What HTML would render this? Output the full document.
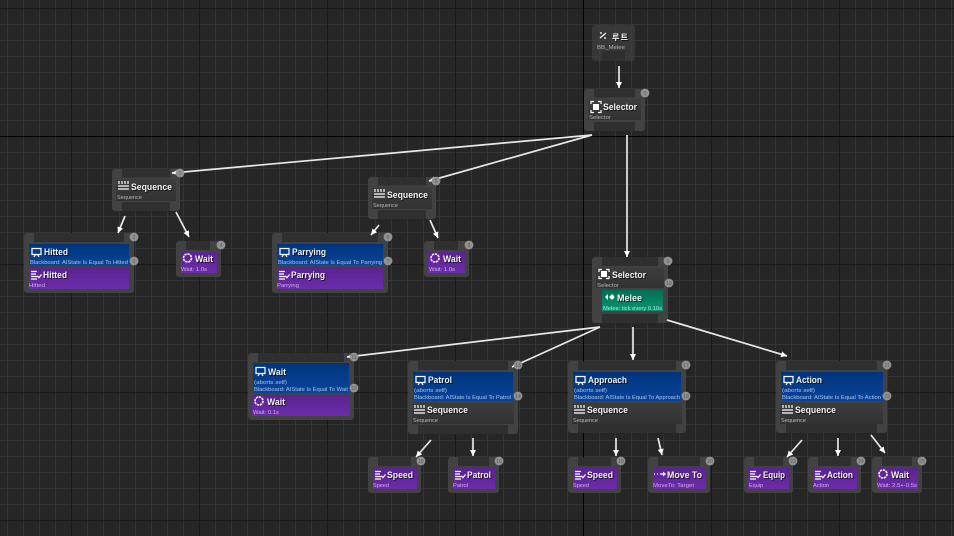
<!DOCTYPE html>
<html><head><meta charset="utf-8"><style>
html,body{margin:0;padding:0;background:#262626;overflow:hidden}
svg{display:block}
text{font-family:"Liberation Sans","Noto Sans CJK KR",sans-serif;fill:#fff}
.t{font-size:9.5px;font-weight:bold;fill:#f4f4f4;filter:drop-shadow(1px 1px 0 #000a)}
.s{font-size:5.6px;fill:#b8b8b8}
.b{font-size:5.6px;fill:#a9c4ea}
.p{font-size:5.6px;fill:#cfaeea}
.g{font-size:5.6px;fill:#b5e8d5}
.n{fill:#424242}
.k{fill:#2f2f2f}
.d{fill:url(#gd)}
.bl{fill:url(#gb)}
.pu{fill:url(#gp)}
.gr{fill:url(#gg)}
.i{fill:none;stroke:#fff;stroke-width:1.2}
.f{fill:#fff}
.l{stroke:#e8e8e8;stroke-width:1.7;fill:none;marker-end:url(#a)}
.c{fill:#929292;r:4.4px}
.x{font-size:5px;fill:#5a5a5a;text-anchor:middle}
</style></head><body>
<svg width="954" height="536" viewBox="0 0 954 536" xmlns="http://www.w3.org/2000/svg">
<defs>
<pattern id="mn" width="16" height="16" patternUnits="userSpaceOnUse" x="7" y="8"><rect width="1" height="16" fill="#353535"/><rect width="16" height="1" fill="#353535"/></pattern>
<pattern id="mj" width="128" height="128" patternUnits="userSpaceOnUse" x="71" y="8"><rect width="1" height="128" fill="#181818"/><rect width="128" height="1" fill="#181818"/></pattern>
<linearGradient id="gd" x1="0" y1="0" x2="0" y2="1"><stop offset="0" stop-color="#3e3e3e"/><stop offset="1" stop-color="#323232"/></linearGradient>
<linearGradient id="gb" x1="0" y1="0" x2="0" y2="1"><stop offset="0" stop-color="#00347c"/><stop offset="1" stop-color="#0a449a"/></linearGradient>
<linearGradient id="gp" x1="0" y1="0" x2="0" y2="1"><stop offset="0" stop-color="#5a2292"/><stop offset="1" stop-color="#6c2ca8"/></linearGradient>
<linearGradient id="gg" x1="0" y1="0" x2="0" y2="1"><stop offset="0" stop-color="#006f54"/><stop offset="1" stop-color="#0a9470"/></linearGradient>
<marker id="a" markerUnits="userSpaceOnUse" markerWidth="8" markerHeight="8" refX="6" refY="3.500" orient="auto"><path d="M0 .5L6 3.500L0 6.500Z" fill="#fff"/></marker>
</defs>
<rect width="954" height="536" fill="#262626"/>
<rect width="954" height="536" fill="url(#mn)"/>
<rect width="954" height="536" fill="url(#mj)"/>
<rect x="583" width="1" height="536" fill="#000"/>
<rect y="136" width="954" height="1" fill="#000"/>

<!-- root -->
<rect class="n" x="592" y="25" width="43" height="36" rx="3" fill-opacity=".6"/>
<rect class="k" x="602" y="51" width="23" height="10"/>
<path class="i" d="M600 38L606 33M600 33h2M604 38h2"/>
<text class="t" x="612" y="40" style="font-size:8px" textLength="16">루트</text>
<text class="s" x="597" y="49" textLength="28" lengthAdjust="spacingAndGlyphs">BB_Melee</text>

<!-- selector top -->
<rect class="n" x="584" y="89" width="61" height="42" rx="3"/>
<rect class="k" x="594" y="89" width="41" height="8.500"/><rect class="k" x="594" y="122" width="41" height="9"/>
<rect class="d" x="588" y="99" width="53" height="21"/>
<rect class="f" x="593" y="104" width="6" height="6"/><path class="i" d="M594 101.500h-3v2.500M598 101.500h3v2.500M594 112.500h-3v-2.500M598 112.500h3v-2.500"/>
<text class="t" x="603" y="110" textLength="34" lengthAdjust="spacingAndGlyphs">Selector</text>
<text class="s" x="589" y="119" textLength="22" lengthAdjust="spacingAndGlyphs">Selector</text>

<!-- sequence 1 -->
<rect class="n" x="112" y="169" width="68" height="42" rx="3"/>
<rect class="k" x="122" y="169" width="48" height="8.500"/><rect class="k" x="122" y="202" width="48" height="9"/>
<rect class="d" x="116" y="179" width="60" height="22"/>
<path class="i" d="M119 181v3M122 181v3M125 181v3M128 181v3M118 186h11M118 189h11"/>
<text class="t" x="131" y="190" textLength="41" lengthAdjust="spacingAndGlyphs">Sequence</text>
<text class="s" x="117" y="199" textLength="25" lengthAdjust="spacingAndGlyphs">Sequence</text>

<!-- hitted -->
<rect class="n" x="24" y="233" width="110" height="60" rx="3"/>
<rect class="k" x="34" y="233" width="90" height="9"/>
<rect class="bl" x="29" y="244" width="100" height="22"/>
<rect class="pu" x="29" y="267" width="100" height="22"/>
<path class="i" d="M32 248.500h9v6h-9zM34 257l1.500-2.500M39 257l-1.500-2.500"/>
<text class="t" x="44" y="255" textLength="24" lengthAdjust="spacingAndGlyphs">Hitted</text>
<text class="b" x="30" y="264" textLength="98" lengthAdjust="spacingAndGlyphs">Blackboard: AIState Is Equal To Hitted</text>
<path class="i" d="M31 271.500h6M31 274h5M31 276.500h6M31 279h6M37 276l2 1.500 2.500-3"/>
<text class="t" x="43" y="278" textLength="24" lengthAdjust="spacingAndGlyphs">Hitted</text>
<text class="p" x="29" y="287" textLength="16" lengthAdjust="spacingAndGlyphs">Hitted</text>

<!-- wait 1 -->
<rect class="n" x="176" y="241" width="45" height="36" rx="3"/>
<rect class="k" x="186" y="241" width="24" height="9"/>
<rect class="pu" x="181" y="252" width="36" height="21"/>
<circle class="i" cx="187.500" cy="258" r="4" style="stroke-width:1.600" stroke-dasharray="2.300 .8"/>
<text class="t" x="195" y="262" textLength="18" lengthAdjust="spacingAndGlyphs">Wait</text>
<text class="p" x="181" y="271" textLength="26" lengthAdjust="spacingAndGlyphs">Wait: 1.0s</text>

<!-- sequence 2 -->
<rect class="n" x="368" y="177" width="68" height="42" rx="3"/>
<rect class="k" x="378" y="177" width="48" height="8.500"/><rect class="k" x="378" y="210" width="48" height="9"/>
<rect class="d" x="372" y="187" width="60" height="22"/>
<path class="i" d="M375 189v3M378 189v3M381 189v3M384 189v3M374 194h11M374 197h11"/>
<text class="t" x="387" y="198" textLength="41" lengthAdjust="spacingAndGlyphs">Sequence</text>
<text class="s" x="373" y="207" textLength="25" lengthAdjust="spacingAndGlyphs">Sequence</text>

<!-- parrying -->
<rect class="n" x="272" y="233" width="116" height="60" rx="3"/>
<rect class="k" x="282" y="233" width="96" height="9"/>
<rect class="bl" x="277" y="244" width="106" height="21"/>
<rect class="pu" x="277" y="267" width="106" height="22"/>
<path class="i" d="M280 248.500h9v6h-9zM282 257l1.500-2.500M287 257l-1.500-2.500"/>
<text class="t" x="292" y="255" textLength="34" lengthAdjust="spacingAndGlyphs">Parrying</text>
<text class="b" x="278" y="264" textLength="104" lengthAdjust="spacingAndGlyphs">Blackboard: AIState Is Equal To Parrying</text>
<path class="i" d="M279 271.500h6M279 274h5M279 276.500h6M279 279h6M285 276l2 1.500 2.500-3"/>
<text class="t" x="291" y="278" textLength="34" lengthAdjust="spacingAndGlyphs">Parrying</text>
<text class="p" x="277" y="287" textLength="22" lengthAdjust="spacingAndGlyphs">Parrying</text>

<!-- wait 2 -->
<rect class="n" x="424" y="241" width="45" height="36" rx="3"/>
<rect class="k" x="434" y="241" width="24" height="9"/>
<rect class="pu" x="428" y="252" width="37" height="21"/>
<circle class="i" cx="435" cy="258" r="4" style="stroke-width:1.600" stroke-dasharray="2.300 .8"/>
<text class="t" x="443" y="262" textLength="18" lengthAdjust="spacingAndGlyphs">Wait</text>
<text class="p" x="429" y="271" textLength="26" lengthAdjust="spacingAndGlyphs">Wait: 1.0s</text>

<!-- selector melee -->
<rect class="n" x="592" y="257" width="76" height="66" rx="3"/>
<rect class="k" x="602" y="257" width="56" height="9"/><rect class="k" x="602" y="314" width="56" height="9"/>
<rect class="d" x="596" y="267" width="68" height="21"/>
<rect class="f" x="601" y="271" width="6" height="6"/><path class="i" d="M602 269.500h-3v2.500M606 269.500h3v2.500M602 278.500h-3v-2.500M606 278.500h3v-2.500"/>
<text class="t" x="612" y="278" textLength="34" lengthAdjust="spacingAndGlyphs">Selector</text>
<text class="s" x="597" y="287" textLength="22" lengthAdjust="spacingAndGlyphs">Selector</text>
<rect class="gr" x="602" y="290" width="61" height="21"/>
<path class="f" d="M605 297l3-3v6zM609 297l2.500-2.500h1.500l1.500 2.500-1.500 2.500h-1.500z"/>
<text class="t" x="617" y="301" textLength="25" lengthAdjust="spacingAndGlyphs">Melee</text>
<text class="g" x="603" y="310" textLength="59" lengthAdjust="spacingAndGlyphs">Melee: tick every 0.10s</text>

<!-- wait decorator -->
<rect class="n" x="248" y="353" width="106" height="67" rx="3"/>
<rect class="k" x="258" y="353" width="86" height="9"/>
<rect class="bl" x="253" y="363" width="96" height="30"/>
<rect class="pu" x="252" y="395" width="98" height="21"/>
<path class="i" d="M256 367.500h9v6h-9zM258 376l1.500-2.500M263 376l-1.500-2.500"/>
<text class="t" x="268" y="375" textLength="18" lengthAdjust="spacingAndGlyphs">Wait</text>
<text class="b" x="254" y="384" textLength="33" lengthAdjust="spacingAndGlyphs">(aborts self)</text>
<text class="b" x="254" y="391" textLength="94" lengthAdjust="spacingAndGlyphs">Blackboard: AIState Is Equal To Wait</text>
<circle class="i" cx="259" cy="401" r="4" style="stroke-width:1.600" stroke-dasharray="2.300 .8"/>
<text class="t" x="267" y="405" textLength="18" lengthAdjust="spacingAndGlyphs">Wait</text>
<text class="p" x="253" y="414" textLength="26" lengthAdjust="spacingAndGlyphs">Wait: 0.1s</text>

<!-- patrol -->
<rect class="n" x="408" y="361" width="110" height="73" rx="3"/>
<rect class="k" x="418" y="361" width="90" height="9"/><rect class="k" x="418" y="425" width="90" height="9"/>
<rect class="bl" x="413" y="372" width="100" height="29"/>
<rect class="d" x="412" y="402" width="102" height="22"/>
<path class="i" d="M416 376.500h9v6h-9zM418 385l1.500-2.500M423 385l-1.500-2.500"/>
<text class="t" x="428" y="383" textLength="24" lengthAdjust="spacingAndGlyphs">Patrol</text>
<text class="b" x="414" y="392" textLength="33" lengthAdjust="spacingAndGlyphs">(aborts self)</text>
<text class="b" x="414" y="399" textLength="97" lengthAdjust="spacingAndGlyphs">Blackboard: AIState Is Equal To Patrol</text>
<path class="i" d="M415 405v3M418 405v3M421 405v3M424 405v3M414 410h11M414 413h11"/>
<text class="t" x="427" y="413" textLength="41" lengthAdjust="spacingAndGlyphs">Sequence</text>
<text class="s" x="413" y="422" textLength="25" lengthAdjust="spacingAndGlyphs">Sequence</text>

<!-- approach -->
<rect class="n" x="568" y="361" width="118" height="72" rx="3"/>
<rect class="k" x="578" y="361" width="98" height="9"/><rect class="k" x="578" y="424" width="98" height="9"/>
<rect class="bl" x="573" y="372" width="108" height="29"/>
<rect class="d" x="572" y="402" width="110" height="22"/>
<path class="i" d="M576 376.500h9v6h-9zM578 385l1.500-2.500M583 385l-1.500-2.500"/>
<text class="t" x="588" y="383" textLength="39" lengthAdjust="spacingAndGlyphs">Approach</text>
<text class="b" x="574" y="392" textLength="33" lengthAdjust="spacingAndGlyphs">(aborts self)</text>
<text class="b" x="574" y="399" textLength="106" lengthAdjust="spacingAndGlyphs">Blackboard: AIState Is Equal To Approach</text>
<path class="i" d="M575 405v3M578 405v3M581 405v3M584 405v3M574 410h11M574 413h11"/>
<text class="t" x="587" y="413" textLength="41" lengthAdjust="spacingAndGlyphs">Sequence</text>
<text class="s" x="573" y="422" textLength="25" lengthAdjust="spacingAndGlyphs">Sequence</text>

<!-- action -->
<rect class="n" x="776" y="361" width="111" height="72" rx="3"/>
<rect class="k" x="786" y="361" width="91" height="9"/><rect class="k" x="786" y="424" width="91" height="9"/>
<rect class="bl" x="781" y="372" width="102" height="29"/>
<rect class="d" x="780" y="402" width="103" height="22"/>
<path class="i" d="M784 376.500h9v6h-9zM786 385l1.500-2.500M791 385l-1.500-2.500"/>
<text class="t" x="796" y="383" textLength="26" lengthAdjust="spacingAndGlyphs">Action</text>
<text class="b" x="782" y="392" textLength="33" lengthAdjust="spacingAndGlyphs">(aborts self)</text>
<text class="b" x="782" y="399" textLength="99" lengthAdjust="spacingAndGlyphs">Blackboard: AIState Is Equal To Action</text>
<path class="i" d="M783 405v3M786 405v3M789 405v3M792 405v3M782 410h11M782 413h11"/>
<text class="t" x="795" y="413" textLength="41" lengthAdjust="spacingAndGlyphs">Sequence</text>
<text class="s" x="781" y="422" textLength="25" lengthAdjust="spacingAndGlyphs">Sequence</text>

<!-- speed -->
<rect class="n" x="368" y="457" width="53" height="36" rx="3"/>
<rect class="k" x="378" y="457" width="33" height="9"/>
<rect class="pu" x="373" y="467" width="44" height="22"/>
<path class="i" d="M375 471.500h6M375 474h5M375 476.500h6M375 479h6M381 476l2 1.500 2.500-3"/>
<text class="t" x="387" y="478" textLength="26" lengthAdjust="spacingAndGlyphs">Speed</text>
<text class="p" x="373" y="487" textLength="16" lengthAdjust="spacingAndGlyphs">Speed</text>

<!-- patrol leaf -->
<rect class="n" x="448" y="457" width="51" height="36" rx="3"/>
<rect class="k" x="458" y="457" width="31" height="9"/>
<rect class="pu" x="453" y="467" width="42" height="22"/>
<path class="i" d="M455 471.500h6M455 474h5M455 476.500h6M455 479h6M461 476l2 1.500 2.500-3"/>
<text class="t" x="467" y="478" textLength="24" lengthAdjust="spacingAndGlyphs">Patrol</text>
<text class="p" x="453" y="487" textLength="15" lengthAdjust="spacingAndGlyphs">Patrol</text>

<!-- speed 2 -->
<rect class="n" x="568" y="457" width="53" height="36" rx="3"/>
<rect class="k" x="578" y="457" width="33" height="9"/>
<rect class="pu" x="573" y="467" width="44" height="22"/>
<path class="i" d="M575 471.500h6M575 474h5M575 476.500h6M575 479h6M581 476l2 1.500 2.500-3"/>
<text class="t" x="587" y="478" textLength="26" lengthAdjust="spacingAndGlyphs">Speed</text>
<text class="p" x="573" y="487" textLength="16" lengthAdjust="spacingAndGlyphs">Speed</text>

<!-- move to -->
<rect class="n" x="648" y="457" width="62" height="36" rx="3"/>
<rect class="k" x="658" y="457" width="42" height="9"/>
<rect class="pu" x="653" y="467" width="53" height="22"/>
<path class="i" d="M654 474h1M657 474h1M660 474h3"/><path class="f" d="M663 471.500l3 2.500-3 2.500z"/>
<text class="t" x="667" y="478" textLength="35" lengthAdjust="spacingAndGlyphs">Move To</text>
<text class="p" x="653" y="487" textLength="41" lengthAdjust="spacingAndGlyphs">MoveTo: Target</text>

<!-- equip -->
<rect class="n" x="744" y="457" width="49" height="36" rx="3"/>
<rect class="k" x="754" y="457" width="29" height="9"/>
<rect class="pu" x="748" y="467" width="41" height="22"/>
<path class="i" d="M750 471.500h6M750 474h5M750 476.500h6M750 479h6M756 476l2 1.500 2.500-3"/>
<text class="t" x="763" y="478" textLength="22" lengthAdjust="spacingAndGlyphs">Equip</text>
<text class="p" x="749" y="487" textLength="14" lengthAdjust="spacingAndGlyphs">Equip</text>

<!-- action leaf -->
<rect class="n" x="808" y="457" width="53" height="36" rx="3"/>
<rect class="k" x="818" y="457" width="33" height="9"/>
<rect class="pu" x="813" y="467" width="44" height="22"/>
<path class="i" d="M815 471.500h6M815 474h5M815 476.500h6M815 479h6M821 476l2 1.500 2.500-3"/>
<text class="t" x="827" y="478" textLength="26" lengthAdjust="spacingAndGlyphs">Action</text>
<text class="p" x="813" y="487" textLength="16" lengthAdjust="spacingAndGlyphs">Action</text>

<!-- wait 3 -->
<rect class="n" x="872" y="457" width="50" height="36" rx="3"/>
<rect class="k" x="882" y="457" width="30" height="9"/>
<rect class="pu" x="877" y="467" width="41" height="22"/>
<circle class="i" cx="883" cy="474" r="4" style="stroke-width:1.600" stroke-dasharray="2.300 .8"/>
<text class="t" x="891" y="478" textLength="18" lengthAdjust="spacingAndGlyphs">Wait</text>
<text class="p" x="877" y="487" textLength="40" lengthAdjust="spacingAndGlyphs">Wait: 2.5+-0.5s</text>

<!-- connectors -->
<path class="l" d="M619 66V88"/>
<path class="l" d="M592 135L172 173"/>
<path class="l" d="M592 135L429 181"/>
<path class="l" d="M627 135V257"/>
<path class="l" d="M125 216L118 233"/>
<path class="l" d="M176 212L189 237"/>
<path class="l" d="M379 225L371 235"/>
<path class="l" d="M430 220L438 238"/>
<path class="l" d="M600 327L347 357"/>
<path class="l" d="M600 327L512 367"/>
<path class="l" d="M633 327V360"/>
<path class="l" d="M667 320L787 356"/>
<path class="l" d="M431 440L416 457"/>
<path class="l" d="M473 438V456"/>
<path class="l" d="M616 438V456"/>
<path class="l" d="M658 438L662 455"/>
<path class="l" d="M802 440L787 457"/>
<path class="l" d="M838 438V456"/>
<path class="l" d="M871 435L885 453"/>

<!-- badges -->
<circle class="c" cx="645" cy="93" r="4"/><text class="x" x="645" y="95">0</text>
<circle class="c" cx="180" cy="173" r="4"/><text class="x" x="180" y="175">1</text>
<circle class="c" cx="134" cy="237" r="4"/><text class="x" x="134" y="239">2</text>
<circle class="c" cx="134" cy="261" r="4"/><text class="x" x="134" y="263">3</text>
<circle class="c" cx="221" cy="245" r="4"/><text class="x" x="221" y="247">4</text>
<circle class="c" cx="436" cy="181" r="4"/><text class="x" x="436" y="183">5</text>
<circle class="c" cx="388" cy="237" r="4"/><text class="x" x="388" y="239">6</text>
<circle class="c" cx="388" cy="261" r="4"/><text class="x" x="388" y="263">7</text>
<circle class="c" cx="469" cy="245" r="4"/><text class="x" x="469" y="247">8</text>
<circle class="c" cx="668" cy="261" r="4"/><text class="x" x="668" y="263">9</text>
<circle class="c" cx="669" cy="283" r="4"/><text class="x" x="669" y="285">10</text>
<circle class="c" cx="354" cy="357" r="4"/><text class="x" x="354" y="359">11</text>
<circle class="c" cx="354" cy="388" r="4"/><text class="x" x="354" y="390">12</text>
<circle class="c" cx="518" cy="365" r="4"/><text class="x" x="518" y="367">13</text>
<circle class="c" cx="518" cy="396" r="4"/><text class="x" x="518" y="398">14</text>
<circle class="c" cx="421" cy="461" r="4"/><text class="x" x="421" y="463">15</text>
<circle class="c" cx="499" cy="461" r="4"/><text class="x" x="499" y="463">16</text>
<circle class="c" cx="686" cy="365" r="4"/><text class="x" x="686" y="367">17</text>
<circle class="c" cx="686" cy="396" r="4"/><text class="x" x="686" y="398">18</text>
<circle class="c" cx="621" cy="461" r="4"/><text class="x" x="621" y="463">19</text>
<circle class="c" cx="710" cy="461" r="4"/><text class="x" x="710" y="463">20</text>
<circle class="c" cx="887" cy="365" r="4"/><text class="x" x="887" y="367">21</text>
<circle class="c" cx="887" cy="396" r="4"/><text class="x" x="887" y="398">22</text>
<circle class="c" cx="793" cy="461" r="4"/><text class="x" x="793" y="463">23</text>
<circle class="c" cx="861" cy="461" r="4"/><text class="x" x="861" y="463">24</text>
<circle class="c" cx="922" cy="461" r="4"/><text class="x" x="922" y="463">25</text>
</svg>
</body></html>
